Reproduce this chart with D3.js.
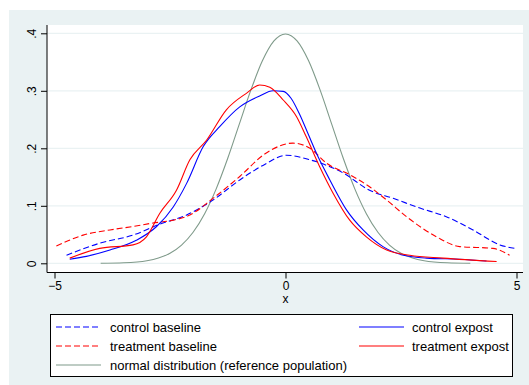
<!DOCTYPE html>
<html><head><meta charset="utf-8">
<script src="https://cdn.jsdelivr.net/npm/d3@7"></script>
<style>body{margin:0;background:#fff}svg{display:block}text{font-family:"Liberation Sans",Arial,sans-serif}</style>
</head><body>
<svg id="c" width="529" height="385"></svg>
<script>
const xTicks=[-5,0,5];
const yTicks=[0,0.1,0.2,0.3,0.4];
const yTickLabels=["0",".1",".2",".3",".4"];
const controlBaseline=[[-4.74,.014],[-4.02,.035],[-3.30,.049],[-2.72,.068],[-2.14,.084],[-1.57,.110],[-0.99,.145],[-0.45,.172],[0.02,.188],[0.53,.180],[1.25,.157],[1.82,.127],[2.33,.113],[2.91,.096],[3.48,.081],[4.06,.058],[4.64,.032],[4.96,.026]];
const treatmentBaseline=[[-4.96,.030],[-4.38,.049],[-3.80,.058],[-3.30,.064],[-2.87,.070],[-2.43,.075],[-2.07,.084],[-1.57,.113],[-0.99,.151],[-0.45,.190],[0.16,.209],[0.53,.200],[0.89,.174],[1.39,.154],[1.82,.133],[2.19,.110],[2.62,.081],[3.27,.046],[3.77,.029],[4.49,.026],[4.85,.014]];
const controlExpost=[[-4.67,.007],[-4.31,.012],[-3.80,.023],[-3.23,.040],[-2.79,.064],[-2.43,.098],[-2.14,.139],[-1.78,.203],[-1.42,.238],[-0.99,.272],[-0.56,.291],[-0.27,.300],[-0.05,.299],[0.12,.287],[0.3,.260],[0.5,.223],[0.7,.186],[0.96,.145],[1.32,.093],[1.68,.058],[2.11,.029],[2.55,.014],[3.05,.009],[3.77,.007],[4.35,.004]];
const treatmentExpost=[[-4.67,.009],[-4.02,.026],[-3.30,.032],[-3.01,.046],[-2.72,.087],[-2.36,.127],[-2.07,.180],[-1.71,.214],[-1.28,.267],[-0.84,.296],[-0.56,.310],[-0.34,.306],[-0.05,.284],[0.24,.255],[0.45,.220],[0.74,.168],[1.03,.122],[1.39,.075],[1.75,.046],[2.19,.023],[2.69,.014],[3.41,.009],[4.57,.003]];
const normalRef=[[-4,.0001],[-3.5,.0009],[-3,.0044],[-2.75,.0091],[-2.5,.0175],[-2.25,.0317],[-2,.0540],[-1.75,.0863],[-1.5,.1295],[-1.25,.1826],[-1,.2420],[-0.75,.3011],[-0.5,.3521],[-0.25,.3867],[0,.3989],[0.25,.3867],[0.5,.3521],[0.75,.3011],[1,.2420],[1.25,.1826],[1.5,.1295],[1.75,.0863],[2,.0540],[2.25,.0317],[2.5,.0175],[2.75,.0091],[3,.0044],[3.5,.0009],[4,.0001]];
const legendLabels=["control baseline","control expost","treatment baseline","treatment expost","normal distribution (reference population)"];

const svg=d3.select("#c");
svg.append("rect").attr("x",9).attr("y",10).attr("width",520).attr("height",375).attr("fill","#eaf2f3");
const pl=47,pr=523,pt=25,pb=272.5;
svg.append("rect").attr("x",pl).attr("y",pt).attr("width",pr-pl).attr("height",pb-pt).attr("fill","#fff");
const x=d3.scaleLinear().domain([-5,5]).range([54.5,516.5]);
const y=d3.scaleLinear().domain([0,0.4]).range([263.3,33.3]);
svg.append("g").selectAll("line").data(yTicks).join("line")
 .attr("x1",pl).attr("x2",pr).attr("y1",d=>y(d)).attr("y2",d=>y(d))
 .attr("stroke","#eaf2f3").attr("stroke-width",1.2);
const ya=svg.append("g").attr("transform",`translate(${pl},0)`)
 .call(d3.axisLeft(y).tickValues(yTicks).tickSize(6).tickPadding(0).tickFormat((d,i)=>yTickLabels[i]));
ya.select(".domain").attr("d",`M0,${pt}V${pb}`).attr("stroke","#000");
ya.selectAll(".tick text").attr("font-size",12).attr("fill","#000")
 .attr("transform","rotate(-90)").attr("x",0).attr("y",-11).attr("dy","0").attr("text-anchor","middle");
const xa=svg.append("g").attr("transform",`translate(0,${pb})`)
 .call(d3.axisBottom(x).tickValues(xTicks).tickSize(6).tickPadding(0).tickFormat(d3.format("d")));
xa.select(".domain").attr("d",`M${pl},0H${pr}`).attr("stroke","#000");
xa.selectAll(".tick text").attr("font-size",12).attr("fill","#000").attr("y",9);
xa.selectAll("line").attr("stroke","#000");ya.selectAll("line").attr("stroke","#000");
svg.append("text").attr("x",x(0)).attr("y",303).attr("text-anchor","middle").attr("font-size",12).text("x");
const line=d3.line().x(d=>x(d[0])).y(d=>y(d[1])).curve(d3.curveMonotoneX);
const series=[
 {d:normalRef,c:"#7f9a8a",dash:null},
 {d:controlBaseline,c:"#0000ff",dash:"6,3"},
 {d:treatmentBaseline,c:"#ff0000",dash:"6,3"},
 {d:controlExpost,c:"#0000ff",dash:null},
 {d:treatmentExpost,c:"#ff0000",dash:null}];
series.forEach(s=>{svg.append("path").attr("d",line(s.d)).attr("fill","none").attr("stroke",s.c)
 .attr("stroke-width",1.1).attr("stroke-dasharray",s.dash);});
svg.append("rect").attr("x",50.5).attr("y",314.5).attr("width",462).attr("height",62).attr("fill","#fff").attr("stroke","#000");
const leg=[
 {t:legendLabels[0],c:"#0000ff",dash:"6,3",lx:56,tx:110,yy:327},
 {t:legendLabels[1],c:"#0000ff",dash:null,lx:359,tx:412,yy:327},
 {t:legendLabels[2],c:"#ff0000",dash:"6,3",lx:56,tx:110,yy:346},
 {t:legendLabels[3],c:"#ff0000",dash:null,lx:359,tx:412,yy:346},
 {t:legendLabels[4],c:"#7f9a8a",dash:null,lx:56,tx:110,yy:365}];
leg.forEach(l=>{
 svg.append("line").attr("x1",l.lx).attr("x2",l.lx+45).attr("y1",l.yy).attr("y2",l.yy).attr("stroke",l.c).attr("stroke-width",1.2).attr("stroke-dasharray",l.dash);
 svg.append("text").attr("x",l.tx).attr("y",l.yy+4.5).attr("font-size",13).text(l.t);
});
</script></body></html>
